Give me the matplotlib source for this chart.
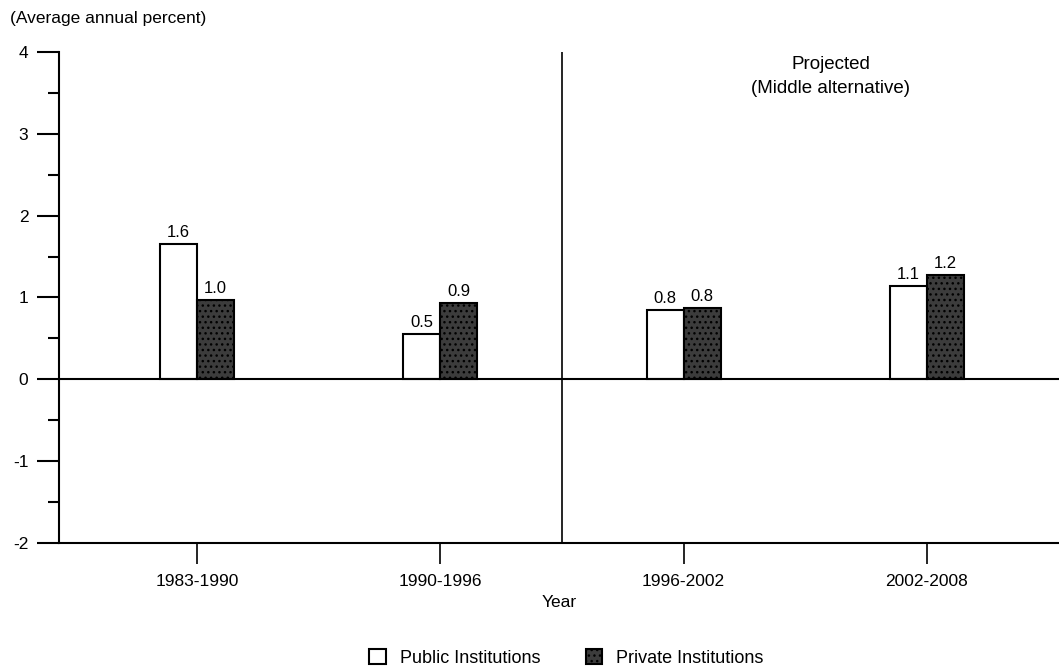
import numpy as np
from matplotlib import pyplot as plt
from matplotlib.ticker import MultipleLocator

plt.rcParams['font.family'] = ['Liberation Sans', 'DejaVu Sans']
plt.rcParams['axes.unicode_minus'] = False

# Data
periods = ['1983-1990', '1990-1996', '1996-2002', '2002-2008']
public = [1.65, 0.55, 0.85, 1.14]
private = [0.97, 0.93, 0.87, 1.27]
public_labels = ['1.6', '0.5', '0.8', '1.1']
private_labels = ['1.0', '0.9', '0.8', '1.2']

fig = plt.figure(figsize=(10.59, 6.71), dpi=100)
ax = fig.add_axes([0.0557, 0.1908, 0.9443, 0.7317])

x = np.arange(len(periods))
bar_width = 0.152

pub_bars = ax.bar(x - bar_width / 2, public, bar_width, facecolor='white',
                  edgecolor='black', linewidth=1.5, label='Public Institutions')
priv_bars = ax.bar(x + bar_width / 2, private, bar_width, facecolor='#3c3c3c',
                   edgecolor='black', linewidth=1.5, hatch='...',
                   label='Private Institutions')

# value labels above bars
for bar, lab in zip(pub_bars, public_labels):
    ax.text(bar.get_x() + bar.get_width() / 2, bar.get_height() + 0.05, lab,
            ha='center', va='bottom', fontsize=12)
for bar, lab in zip(priv_bars, private_labels):
    ax.text(bar.get_x() + bar.get_width() / 2, bar.get_height() + 0.05, lab,
            ha='center', va='bottom', fontsize=12)

# zero line and projected divider
ax.axhline(0, color='black', linewidth=1.5)
ax.axvline(1.5, color='black', linewidth=1.2)

ax.set_xlim(-0.568, 3.543)
ax.set_ylim(-2, 4)
ax.set_xticks(x)
ax.set_xticklabels(periods, fontsize=12.5)
ax.yaxis.set_major_locator(MultipleLocator(1))
ax.yaxis.set_minor_locator(MultipleLocator(0.5))
ax.tick_params(axis='y', which='major', length=16, width=1.5, labelsize=12.5, pad=6)
ax.tick_params(axis='y', which='minor', length=8, width=1.5)
ax.tick_params(axis='x', length=15, width=1.2, pad=7)

for side in ['top', 'right']:
    ax.spines[side].set_visible(False)
for side in ['left', 'bottom']:
    ax.spines[side].set_linewidth(1.5)

ax.set_xlabel('Year', fontsize=12.5, labelpad=5)

fig.text(0.009, 0.972, '(Average annual percent)', fontsize=12.5, va='center')
ax.text(2.605, 3.70, 'Projected\n(Middle alternative)', ha='center', va='center',
        fontsize=13.5, linespacing=1.6)

fig.legend(handles=[pub_bars, priv_bars], loc='lower center',
           bbox_to_anchor=(0.535, -0.018), ncol=2, frameon=False, fontsize=13,
           handlelength=0.9, handleheight=0.9, columnspacing=2.5)

fig.savefig('out.png', dpi=100)
